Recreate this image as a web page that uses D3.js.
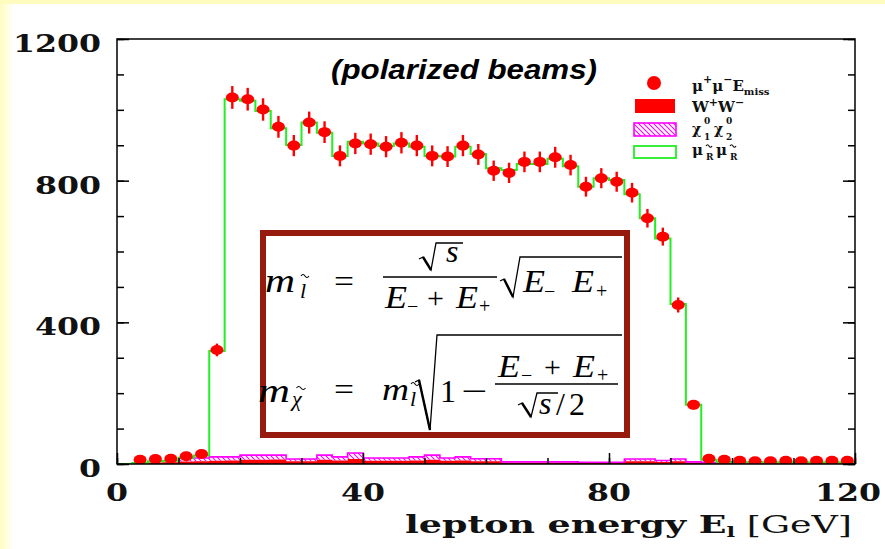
<!DOCTYPE html>
<html>
<head>
<meta charset="utf-8">
<script src="https://cdn.jsdelivr.net/npm/d3@7"></script>
<style>
  html, body { margin: 0; padding: 0; background: #fff; }
  svg { display: block; }
</style>
</head>
<body>
<svg id="chart" width="885" height="549"></svg>
<script>
// ---- histogram data: 48 bins of 2.5 GeV from 0 to 120 GeV ----
const binWidth = 2.5;
const binStarts = d3.range(0, 120, binWidth);

// simulated data points (mu+ mu- + missing energy)
const dataCounts = [null, 12, 14, 15, 22, 28,
  322, 1035, 1030, 1001, 952, 899,
  964, 937, 870, 905, 903, 896,
  907, 899, 870, 868, 899, 874,
  828, 822, 853, 853, 866, 844,
  783, 807, 797, 766, 694, 642,
  449, 167, 15, 12, 9, 8,
  8, 9, 8, 9, 9, 9];

// W+W- background (solid)
const wwCounts = [0, 2, 4, 5, 7, 8,
  9, 10, 12, 12, 13, 8,
  8, 12, 10, 14, 9, 9,
  9, 10, 12, 9, 10, 8,
  8, 4, 4, 4, 4, 4,
  3, 3, 3, 8, 8, 6,
  8, 4, 3, 3, 2, 2,
  2, 2, 2, 2, 2, 2];

// chi1 chi2 background (hatched, stacked on W+W-)
const neutCounts = [0, 1, 1, 1, 10, 9,
  11, 10, 13, 13, 12, 6,
  6, 13, 10, 17, 8, 8,
  8, 10, 13, 8, 10, 7,
  7, 2, 2, 2, 2, 2,
  2, 2, 2, 6, 6, 4,
  6, 2, 1, 1, 2, 0,
  0, 0, 0, 0, 0, 0];

// smuon_R smuon_R expectation (open green histogram, total)
const smuonCounts = [0, 3, 8, 9, 18, 24,
  319, 1030, 1026, 997, 948, 901,
  964, 935, 870, 910, 905, 898,
  905, 896, 870, 868, 896, 875,
  835, 830, 847, 847, 862, 841,
  783, 807, 802, 762, 694, 637,
  452, 167, 12, 6, 5, 5,
  5, 5, 5, 5, 5, 5];

const yTickLabels = [0, 400, 800, 1200];
const yMinorTicks = d3.range(0, 1201, 100);
const xTickLabels = [0, 40, 80, 120];
const xMinorTicks = d3.range(0, 121, 10);

const W = 885, H = 549;
const svg = d3.select('#chart');

// ---- page background with pale yellow edge ----
const defs = svg.append('defs');
const edge = defs.append('linearGradient').attr('id', 'edgeGrad')
  .attr('x1', 0).attr('x2', 1).attr('y1', 0).attr('y2', 0);
edge.append('stop').attr('offset', 0).attr('stop-color', '#fffcc0');
edge.append('stop').attr('offset', 1).attr('stop-color', '#ffffff');
svg.append('rect').attr('width', W).attr('height', H).attr('fill', '#fff');
svg.append('rect').attr('x', 0).attr('y', 0).attr('width', 14).attr('height', H).attr('fill', 'url(#edgeGrad)');
svg.append('rect').attr('x', 0).attr('y', 0).attr('width', W).attr('height', 4).attr('fill', '#fffcc0');

// hatch pattern for the neutralino background
const hatch = defs.append('pattern').attr('id', 'hatch')
  .attr('patternUnits', 'userSpaceOnUse').attr('width', 5).attr('height', 5);
hatch.append('path').attr('d', 'M0,0 L5,5 M-1,4 L1,6 M4,-1 L6,1')
  .attr('stroke', '#ff00ff').attr('stroke-width', 1.1);

// ---- scales ----
const x = d3.scaleLinear().domain([0, 120]).range([117, 855]);
const y = d3.scaleLinear().domain([0, 1200]).range([464, 39]);

defs.append('clipPath').attr('id', 'plotClip').append('rect')
  .attr('x', x(0)).attr('y', y(1200)).attr('width', x(120) - x(0)).attr('height', y(0) - y(1200));

const plot = svg.append('g').attr('clip-path', 'url(#plotClip)');

function stepPoints(vals) {
  const pts = vals.map((v, i) => ({ e: binStarts[i], v: v || 0, i }));
  pts.push({ e: 120, v: vals[vals.length - 1] || 0, i: vals.length - 1 });
  return pts;
}

// W+W- solid histogram
const wwPts = stepPoints(wwCounts);
plot.append('path')
  .attr('d', d3.area().curve(d3.curveStepAfter)
    .x(d => x(d.e)).y0(y(0)).y1(d => y(d.v))(wwPts))
  .attr('fill', '#ff0000');

// chi1 chi2 hatched histogram stacked on W+W-
const stackPts = stepPoints(neutCounts).map(d => ({ e: d.e, lo: wwCounts[d.i], hi: wwCounts[d.i] + neutCounts[d.i] }));
plot.append('path')
  .attr('d', d3.area().curve(d3.curveStepAfter)
    .x(d => x(d.e)).y0(d => y(d.lo)).y1(d => y(d.hi))(stackPts))
  .attr('fill', 'url(#hatch)');
plot.append('path')
  .attr('d', d3.line().curve(d3.curveStepAfter)
    .x(d => x(d.e)).y(d => y(d.hi))(stackPts.filter(d => d.e >= 10 && d.e <= 105)))
  .attr('fill', 'none').attr('stroke', '#ff00ff').attr('stroke-width', 1.6);

// smuon histogram outline
plot.append('path')
  .attr('d', d3.line().curve(d3.curveStepAfter)
    .x(d => x(d.e)).y(d => y(d.v))(stepPoints(smuonCounts)))
  .attr('fill', 'none').attr('stroke', '#22ee22').attr('stroke-width', 2);

// data points with statistical error bars
const pts = dataCounts.map((v, i) => ({ c: binStarts[i] + binWidth / 2, v })).filter(d => d.v != null);
const marks = plot.append('g').selectAll('g').data(pts).join('g');
marks.append('line')
  .attr('x1', d => x(d.c)).attr('x2', d => x(d.c))
  .attr('y1', d => y(d.v + Math.sqrt(d.v))).attr('y2', d => y(d.v - Math.sqrt(d.v)))
  .attr('stroke', '#ff0000').attr('stroke-width', 2.4);
marks.append('ellipse')
  .attr('cx', d => x(d.c)).attr('cy', d => y(d.v))
  .attr('rx', 6.5).attr('ry', 5)
  .attr('fill', '#ff0000');

// ---- frame and axes ----
svg.append('rect')
  .attr('x', x(0)).attr('y', y(1200)).attr('width', x(120) - x(0)).attr('height', y(0) - y(1200))
  .attr('fill', 'none').attr('stroke', '#000').attr('stroke-width', 1.5);

function tickAxis(gen, tx, ty, values, size) {
  const g = svg.append('g').attr('transform', `translate(${tx},${ty})`)
    .call(gen.tickValues(values).tickSize(size).tickFormat(''));
  g.select('.domain').remove();
  g.selectAll('line').attr('stroke', '#000').attr('stroke-width', 1.5);
  return g;
}
tickAxis(d3.axisLeft(y), x(0), 0, yMinorTicks, -7);
tickAxis(d3.axisLeft(y), x(0), 0, yTickLabels, -12);
tickAxis(d3.axisRight(y), x(120), 0, yMinorTicks, -7);
tickAxis(d3.axisRight(y), x(120), 0, yTickLabels, -12);
tickAxis(d3.axisBottom(x), 0, y(0), xMinorTicks, -6);
tickAxis(d3.axisBottom(x), 0, y(0), xTickLabels, -11);

const labelFont = '"DejaVu Serif", "Liberation Serif", serif';
// y tick labels
svg.append('g').selectAll('text').data(yTickLabels).join('text')
  .attr('x', 101).attr('y', d => y(d) + 13)
  .attr('text-anchor', 'end')
  .attr('font-family', labelFont).attr('font-weight', 'bold').attr('font-size', 25)
  .attr('textLength', d => String(d).length * 22).attr('lengthAdjust', 'spacingAndGlyphs')
  .attr('fill', '#111')
  .text(d => d);
// x tick labels
svg.append('g').selectAll('text').data(xTickLabels).join('text')
  .attr('x', d => d === 120 ? x(d) + 26 : x(d))
  .attr('y', 501)
  .attr('text-anchor', d => d === 120 ? 'end' : 'middle')
  .attr('font-family', labelFont).attr('font-weight', 'bold').attr('font-size', 25)
  .attr('textLength', d => String(d).length * 22).attr('lengthAdjust', 'spacingAndGlyphs')
  .attr('fill', '#111')
  .text(d => d);

// x axis title
const xt = svg.append('text')
  .attr('x', 405).attr('y', 533)
  .attr('font-family', labelFont).attr('font-weight', 'bold').attr('font-size', 24)
  .attr('textLength', 447).attr('lengthAdjust', 'spacingAndGlyphs')
  .attr('fill', '#111');
xt.append('tspan').text('lepton energy E');
xt.append('tspan').attr('font-size', 15).attr('dy', 4).text('l');
xt.append('tspan').attr('dy', -4).attr('font-weight', 'normal').text('   [GeV]');

// title
svg.append('text')
  .attr('x', 464).attr('y', 79)
  .attr('text-anchor', 'middle')
  .attr('font-family', '"Liberation Sans", Arial, sans-serif')
  .attr('font-weight', 'bold').attr('font-style', 'italic').attr('font-size', 27)
  .attr('textLength', 266).attr('lengthAdjust', 'spacingAndGlyphs')
  .attr('fill', '#000')
  .text('(polarized beams)');

// ---- legend ----
const leg = svg.append('g');
const legFont = '"DejaVu Serif", serif';
leg.append('circle').attr('cx', 654).attr('cy', 83).attr('r', 7).attr('fill', '#ff0000');
leg.append('rect').attr('x', 635).attr('y', 99).attr('width', 40).attr('height', 14).attr('fill', '#ff0000');
leg.append('rect').attr('x', 634).attr('y', 123).attr('width', 42).attr('height', 13)
  .attr('fill', 'url(#hatch)').attr('stroke', '#ff00ff').attr('stroke-width', 1.6);
leg.append('rect').attr('x', 634).attr('y', 146).attr('width', 42).attr('height', 12)
  .attr('fill', 'none').attr('stroke', '#22ee22').attr('stroke-width', 1.8);

function legText(xp, yp, size, str) {
  return leg.append('text').attr('x', xp).attr('y', yp)
    .attr('font-family', legFont).attr('font-weight', 'bold').attr('font-size', size)
    .attr('fill', '#111').text(str);
}
function legTilde(cx, cy) {
  leg.append('path')
    .attr('d', `M${cx - 3},${cy + 1} q1.5,-2.5 3,0 t3,0`)
    .attr('fill', 'none').attr('stroke', '#111').attr('stroke-width', 1.2);
}
// mu+ mu- E_miss
const l1 = legText(692, 91, 15, '');
l1.append('tspan').text('μ');
l1.append('tspan').attr('dy', -8).attr('font-size', 11).text('+');
l1.append('tspan').attr('dy', 8).text('μ');
l1.append('tspan').attr('dy', -8).attr('font-size', 11).text('−');
l1.append('tspan').attr('dy', 8).text('E');
l1.append('tspan').attr('dy', 4).attr('font-size', 10).text('miss');
// W+ W-
const l2 = legText(692, 112, 15, '');
l2.append('tspan').text('W');
l2.append('tspan').attr('dy', -6).attr('font-size', 11).text('+');
l2.append('tspan').attr('dy', 6).text('W');
l2.append('tspan').attr('dy', -6).attr('font-size', 11).text('−');
// chi1 chi2
legText(692, 134, 14, 'χ');
legText(704, 124, 9, '0');
legText(704, 140, 9, '1');
legText(714, 134, 14, 'χ');
legText(726, 124, 9, '0');
legText(726, 140, 9, '2');
// smuR smuR
legText(692, 155, 15, 'μ');
legTilde(709, 145);
legText(706, 160, 9, 'R');
legText(716, 155, 15, 'μ');
legTilde(733, 145);
legText(730, 160, 9, 'R');

// ---- mass relation box ----
const box = svg.append('g');
box.append('rect').attr('x', 263).attr('y', 233).attr('width', 364).attr('height', 202)
  .attr('fill', '#fff').attr('stroke', '#961b0e').attr('stroke-width', 6);

const mathFont = '"Liberation Serif", "DejaVu Serif", serif';
function mt(str, xp, yp, size, italic, len) {
  const t = box.append('text').attr('x', xp).attr('y', yp)
    .attr('font-family', mathFont).attr('font-size', size)
    .attr('font-style', italic ? 'italic' : 'normal')
    .attr('fill', '#000').text(str);
  if (len) t.attr('textLength', len).attr('lengthAdjust', 'spacingAndGlyphs');
  return t;
}
function hline(x1, x2, yp, w) {
  box.append('line').attr('x1', x1).attr('x2', x2).attr('y1', yp).attr('y2', yp)
    .attr('stroke', '#000').attr('stroke-width', w || 1.3);
}
function radical(x0, y0, xb, yb, xt, yt, xe) {
  box.append('path')
    .attr('d', `M${x0 - 4},${y0 + 2} L${x0},${y0} L${xb},${yb} L${xt},${yt} L${xe},${yt}`)
    .attr('fill', 'none').attr('stroke', '#000').attr('stroke-width', 1.3).attr('stroke-linejoin', 'miter');
  box.append('line').attr('x1', x0).attr('y1', y0).attr('x2', xb).attr('y2', yb)
    .attr('stroke', '#000').attr('stroke-width', 2.4);
}
function tilde(cx, cy, w) {
  box.append('path')
    .attr('d', `M${cx - w / 2},${cy + 1} q${w / 4},-3 ${w / 2},0 t${w / 2},0`)
    .attr('fill', 'none').attr('stroke', '#000').attr('stroke-width', 1.1);
}

// first line: m_l = sqrt(s)/(E- + E+) sqrt(E- E+)
mt('m', 265, 292, 34, true, 30);
mt('l', 300, 298, 22, true);
tilde(305, 275, 8);
mt('=', 334, 292, 32, false, 20);
radical(423, 257, 431, 270, 436, 243, 463);
mt('s', 446, 262, 32, true);
hline(383, 497, 277);
mt('E', 385, 308, 32, true, 22);
mt('−', 407, 313, 20, false);
mt('+', 427, 308, 30, false);
mt('E', 456, 308, 32, true, 22);
mt('+', 479, 313, 20, false);
radical(504, 279, 513, 297, 520, 257, 622);
mt('E', 523, 292, 32, true, 22);
mt('−', 544, 298, 20, false);
mt('E', 572, 292, 32, true, 22);
mt('+', 596, 298, 20, false);

// second line: m_chi = m_l sqrt(1 - (E- + E+)/(sqrt(s)/2))
mt('m', 258, 402, 34, true, 32);
mt('χ', 292, 406, 22, true);
tilde(301, 387, 9);
mt('=', 334, 400, 32, false, 20);
mt('m', 382, 400, 32, true, 27);
mt('l', 410, 406, 22, true);
tilde(415, 383, 8);
radical(419, 380, 430, 430, 437, 335, 622);
mt('1', 440, 402, 32, false);
mt('−', 461, 402, 32, false, 26);
hline(495, 618, 384);
mt('E', 498, 377, 32, true, 22);
mt('−', 521, 382, 20, false);
mt('+', 544, 377, 30, false);
mt('E', 573, 377, 32, true, 22);
mt('+', 597, 382, 20, false);
radical(522, 403, 531, 417, 537, 393, 558);
mt('s', 539, 414, 32, true);
mt('/', 556, 415, 32, false);
mt('2', 569, 415, 32, false);
</script>
</body>
</html>
